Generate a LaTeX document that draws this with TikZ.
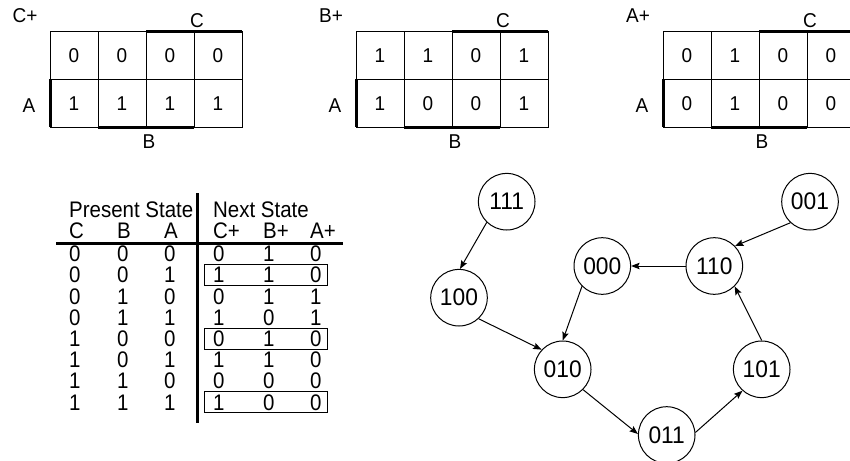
\documentclass[tikz,border=0pt]{standalone}
\usepackage{fontspec}
\setmainfont{Liberation Sans}[FakeStretch=0.95]
\newfontfamily\tabfamily{Liberation Sans}[FakeStretch=0.91]
\usetikzlibrary{arrows.meta}

\newcommand{\kfont}{\fontsize{20}{23}\selectfont}
\newcommand{\tfont}{\tabfamily\fontsize{22.5}{25}\selectfont}
\newcommand{\nfont}{\fontsize{24}{27}\selectfont}

\tikzset{
  grid/.style={line width=1pt},
  bar/.style={line width=3pt},
  kval/.style={inner sep=0pt, font=\kfont},
  klab/.style={inner sep=0pt, font=\kfont},
  tcell/.style={anchor=base west, inner sep=0pt, font=\tfont},
  rule/.style={line width=2.5pt},
  rowbox/.style={line width=1pt},
  state/.style={circle, draw, line width=1pt, minimum size=56.6pt, inner sep=0pt, font=\nfont},
  edge/.style={line width=1pt, -{Stealth[length=8.5pt, width=6.5pt, inset=1.5pt]}}
}

% Karnaugh map: #1 name prefix, #2 left edge, #3 title, #4 top row, #5 bottom row
\newcommand{\kmap}[5]{%
\begin{scope}[shift={(#2,0)}]
  \draw[grid] (0,31.7) rectangle (192,127);
  \draw[grid] (0,79.3) -- (192,79.3);
  \foreach \i in {1,2,3} \draw[grid] (48*\i,31.7) -- (48*\i,127);
  \foreach \v [count=\i] in {#4} \node[kval] (#1t\i) at (48*\i-24,56) {\v};
  \foreach \v [count=\i] in {#5} \node[kval] (#1b\i) at (48*\i-24,104) {\v};
  \draw[bar] (96,31.7) -- (192,31.7);
  \draw[bar] (0,79.3) -- (0,127);
  \draw[bar] (48,127) -- (144,127);
  \node[klab] (#1title) at (-25,16) {#3};
  \node[klab] (#1C) at (147,21) {C};
  \node[klab] (#1A) at (-21,106) {A};
  \node[klab] (#1B) at (99,142) {B};
\end{scope}}

\begin{document}
\begin{tikzpicture}[x=1pt, y=-1pt]
\useasboundingbox (0,0) rectangle (850,460);
\clip (0,0) rectangle (850,460);

% next-state maps
\kmap{mc}{50}{C+}{0,0,0,0}{1,1,1,1}
\kmap{mb}{356}{B+}{1,1,0,1}{1,0,0,1}
\kmap{ma}{663}{A+}{0,1,0,0}{0,1,0,0}

% state table
\draw[rule] (56,243.3) -- (343.3,243.3);
\draw[rule] (197.7,193) -- (197.7,423);
\node[tcell] (present) at (69,217.7) {Present State};
\node[tcell] (next) at (213,217.7) {Next State};
\foreach \h [count=\k] in {C,B,A,C+,B+,A+} {
  \pgfmathsetmacro{\cx}{{69,117,164,213,263,310}[\k-1]}
  \node[tcell] (head\k) at (\cx,238) {\h};
}
\foreach \row [count=\r] in {
  {0,0,0,0,1,0},{0,0,1,1,1,0},{0,1,0,0,1,1},{0,1,1,1,0,1},
  {1,0,0,0,1,0},{1,0,1,1,1,0},{1,1,0,0,0,0},{1,1,1,1,0,0}} {
  \foreach \v [count=\k] in \row {
    \pgfmathsetmacro{\cx}{{69,117,164,213,263,310}[\k-1]}
    \node[tcell] (t\r-\k) at (\cx,{261.7+21.2*(\r-1)}) {\v};
  }
}
\foreach \r in {2,5,8}
  \draw[rowbox] (204,{261.7+21.2*(\r-1)-18.3}) rectangle (327,{261.7+21.2*(\r-1)+2.7});

% state diagram
\node[state] (n111) at (506.7,201.7) {111};
\node[state] (n001) at (810,201.7) {001};
\node[state] (n110) at (714.3,266) {110};
\node[state] (n000) at (602.3,266) {000};
\node[state] (n100) at (459,297.7) {100};
\node[state] (n010) at (562.7,369.3) {010};
\node[state] (n101) at (761.7,369.3) {101};
\node[state] (n011) at (666.7,435) {011};

\draw[edge] (n111.226) -- (n100.88);
\draw[edge] (n100.-47) -- (n010.137);
\draw[edge] (n000.225) -- (n010.90);
\draw[edge] (n110.180) -- (n000.0);
\draw[edge] (n001.227) -- (n110.44);
\draw[edge] (n010.-45) -- (n011.178);
\draw[edge] (n011.5) -- (n101.228);
\draw[edge] (n101.90) -- (n110.-45);
\end{tikzpicture}
\end{document}
